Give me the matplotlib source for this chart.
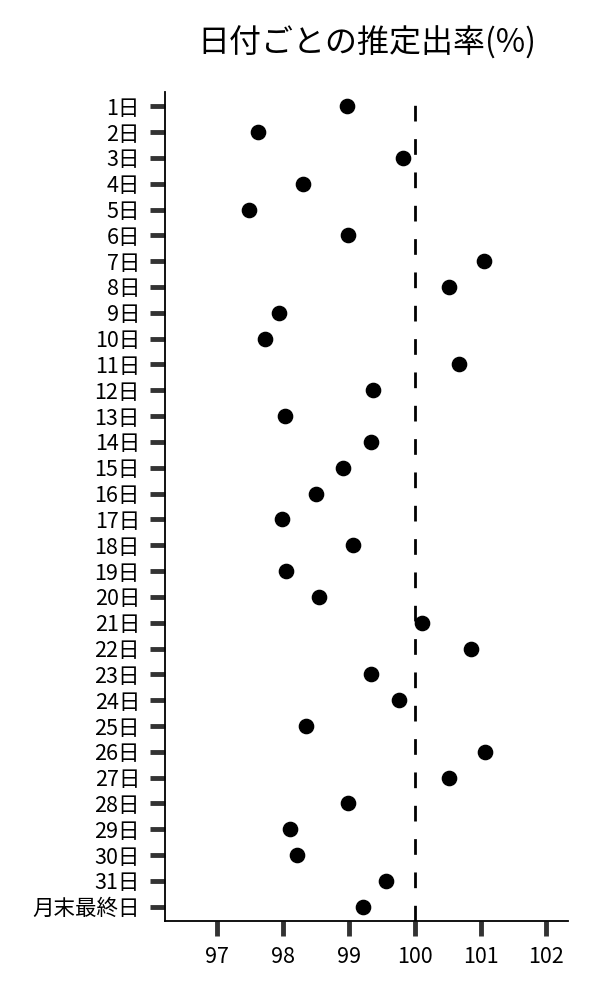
import matplotlib.pyplot as plt

plt.rcParams['font.family'] = ['Noto Sans CJK JP', 'DejaVu Sans']

days = [f"{d}日" for d in range(1, 32)] + ["月末最終日"]
rates = [
    98.98, 97.62, 99.83, 98.31, 97.48, 98.99, 101.05, 100.52,
    97.94, 97.73, 100.67, 99.36, 98.03, 99.33, 98.91, 98.50,
    97.99, 99.07, 98.04, 98.55, 100.11, 100.86, 99.33, 99.76,
    98.35, 101.06, 100.52, 98.99, 98.11, 98.22, 99.57, 99.21,
]
xticks = [97, 98, 99, 100, 101, 102]

fig = plt.figure(figsize=(6, 10), dpi=100)
ax = fig.add_axes([0.275, 0.079, 0.672, 0.829])

ypos = list(range(len(days)))
ax.scatter(rates, ypos, s=105, color="black", zorder=3)
ax.axvline(100, color="black", lw=2, dashes=(5.65, 6.35), zorder=2)

ax.set_yticks(ypos)
ax.set_yticklabels(days)
ax.set_ylim(len(days) - 0.45, -0.55)
ax.set_xticks(xticks)
ax.set_xlim(96.21, 102.33)

ax.spines["top"].set_visible(False)
ax.spines["right"].set_visible(False)
for side in ["left", "bottom"]:
    ax.spines[side].set_linewidth(1.3)

ax.tick_params(axis="both", length=11, width=3.5, color="#333333",
               labelsize=15.5, pad=7)

fig.suptitle("日付ごとの推定出率(%)", fontsize=23, x=0.611, y=0.957,
             va="center")

fig.savefig("out.png", dpi=100)
